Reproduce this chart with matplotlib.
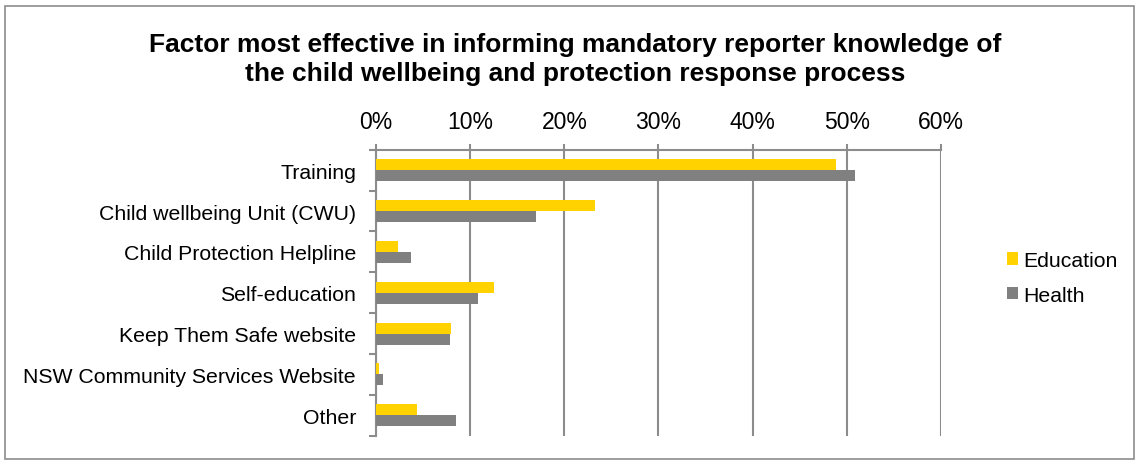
import matplotlib.pyplot as plt
import numpy as np
from matplotlib.patches import Rectangle
from matplotlib.ticker import FuncFormatter, FixedLocator

plt.rcParams['font.family'] = ['Liberation Sans', 'DejaVu Sans']

# Survey answers, share of respondents per sector
factors = ['Training', 'Child wellbeing Unit (CWU)', 'Child Protection Helpline',
           'Self-education', 'Keep Them Safe website',
           'NSW Community Services Website', 'Other']
education = [0.489, 0.233, 0.023, 0.125, 0.080, 0.003, 0.043]
health = [0.509, 0.170, 0.037, 0.108, 0.079, 0.007, 0.085]

title = ('Factor most effective in informing mandatory reporter knowledge of\n'
         'the child wellbeing and protection response process')

yellow = '#FFD200'
grey = '#808080'
line_col = '#8C8C8C'

fig = plt.figure(figsize=(11.36, 4.64), dpi=100)
ax = fig.add_axes([0.331, 0.0588, 0.4973, 0.6162])

y = np.arange(len(factors))
h = 0.27
ax.barh(y - h / 2, education, height=h, color=yellow, label='Education', zorder=3)
ax.barh(y + h / 2, health, height=h, color=grey, label='Health', zorder=3)

ax.set_xlim(0, 0.6)
ax.set_ylim(len(factors) - 0.5, -0.5)
ax.xaxis.tick_top()
ax.set_xticks(np.arange(0, 0.61, 0.1))
ax.xaxis.set_major_formatter(FuncFormatter(lambda v, p: f'{v:.0%}'))
ax.tick_params(axis='x', length=4, width=1.5, color=line_col, pad=8, labelsize=16.5)
ax.grid(axis='x', color=line_col, linewidth=1.5, zorder=1)

ax.set_yticks(y)
ax.set_yticklabels(factors)
ax.yaxis.set_minor_locator(FixedLocator(np.arange(-0.5, len(factors), 1)))
ax.tick_params(axis='y', which='major', length=0, pad=14.4, labelsize=15.3)
ax.tick_params(axis='y', which='minor', length=5, width=1.5, color=line_col)

for side in ['right', 'bottom']:
    ax.spines[side].set_visible(False)
for side in ['left', 'top']:
    ax.spines[side].set_color(line_col)
    ax.spines[side].set_linewidth(1.5)

fig.text(0.506, 0.871, title, ha='center', va='center', fontsize=19,
         fontweight='bold', linespacing=1.25)

leg = fig.legend(loc='center left', bbox_to_anchor=(0.8864, 0.3987), frameon=False,
                 fontsize=15.3, handlelength=0.5, handleheight=0.5,
                 handletextpad=0.25, labelspacing=0.75, borderpad=0,
                 borderaxespad=0)

# outer chart border
fig.patches.append(Rectangle((0.0045, 0.008), 0.9935, 0.977, transform=fig.transFigure,
                             fill=False, edgecolor='#8C8C8C', linewidth=1.2))

fig.savefig('out.png', dpi=100)
